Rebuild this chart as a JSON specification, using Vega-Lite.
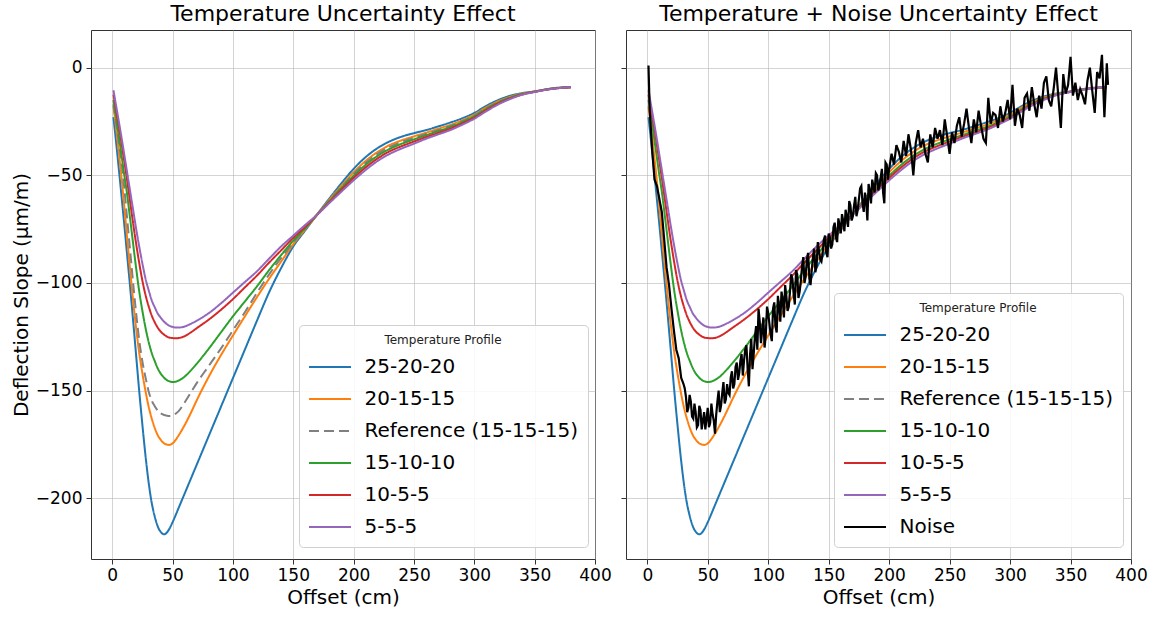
{
  "$schema": "https://vega.github.io/schema/vega-lite/v6.json",
  "padding": {"left": 10, "top": 2, "right": 5, "bottom": 5},
  "bounds": "flush",
  "spacing": 31,
  "config": {
    "font": "DejaVu Sans",
    "view": {"stroke": "#333333", "strokeWidth": 1},
    "axis": {
      "labelFont": "DejaVu Sans", "labelFontSize": 17, "labelColor": "#000000",
      "titleFont": "DejaVu Sans", "titleFontSize": 20, "titleFontWeight": "normal", "titleColor": "#000000",
      "gridColor": "#b0b0b0", "gridOpacity": 0.55, "gridWidth": 1,
      "tickColor": "#333333", "tickSize": 5, "domain": false, "labelFlush": false, "labelOverlap": false
    },
    "axisX": {"labelPadding": 3, "titlePadding": 4},
    "axisY": {"labelPadding": 4, "titlePadding": 4},
    "title": {"font": "DejaVu Sans", "fontSize": 22, "fontWeight": "normal", "color": "#000000", "anchor": "middle", "offset": 4},
    "line": {"strokeWidth": 2}
  },
  "datasets": {
    "curves": [
      {"x": 1, "25-20-20": -23, "20-15-15": -18, "Reference (15-15-15)": -17, "15-10-10": -15, "10-5-5": -12.5, "5-5-5": -10.5},
      {"x": 3, "25-20-20": -33.5, "20-15-15": -27, "Reference (15-15-15)": -25, "15-10-10": -22, "10-5-5": -19, "5-5-5": -17},
      {"x": 5, "25-20-20": -44.5, "20-15-15": -37, "Reference (15-15-15)": -33, "15-10-10": -30, "10-5-5": -25.5, "5-5-5": -23.5},
      {"x": 8, "25-20-20": -61.5, "20-15-15": -53, "Reference (15-15-15)": -45.5, "15-10-10": -42, "10-5-5": -36, "5-5-5": -33.5},
      {"x": 10, "25-20-20": -73, "20-15-15": -64.5, "Reference (15-15-15)": -56, "15-10-10": -50, "10-5-5": -43.5, "5-5-5": -40.5},
      {"x": 12, "25-20-20": -85, "20-15-15": -77, "Reference (15-15-15)": -68, "15-10-10": -57.5, "10-5-5": -51, "5-5-5": -47.5},
      {"x": 15, "25-20-20": -103, "20-15-15": -95, "Reference (15-15-15)": -86, "15-10-10": -71, "10-5-5": -63, "5-5-5": -58},
      {"x": 18, "25-20-20": -122, "20-15-15": -112, "Reference (15-15-15)": -104, "15-10-10": -85, "10-5-5": -75, "5-5-5": -68.5},
      {"x": 20, "25-20-20": -135, "20-15-15": -122, "Reference (15-15-15)": -115, "15-10-10": -94, "10-5-5": -82.5, "5-5-5": -75.5},
      {"x": 22, "25-20-20": -148, "20-15-15": -131, "Reference (15-15-15)": -125, "15-10-10": -102.5, "10-5-5": -89.5, "5-5-5": -82},
      {"x": 25, "25-20-20": -166, "20-15-15": -142, "Reference (15-15-15)": -136.5, "15-10-10": -113, "10-5-5": -99, "5-5-5": -91},
      {"x": 28, "25-20-20": -182.5, "20-15-15": -151.5, "Reference (15-15-15)": -145, "15-10-10": -122, "10-5-5": -106.5, "5-5-5": -99},
      {"x": 30, "25-20-20": -192, "20-15-15": -157, "Reference (15-15-15)": -150, "15-10-10": -127, "10-5-5": -110.5, "5-5-5": -103},
      {"x": 33, "25-20-20": -203, "20-15-15": -163.5, "Reference (15-15-15)": -155, "15-10-10": -133, "10-5-5": -115.5, "5-5-5": -108.5},
      {"x": 35, "25-20-20": -208, "20-15-15": -167, "Reference (15-15-15)": -157, "15-10-10": -136, "10-5-5": -118, "5-5-5": -111},
      {"x": 38, "25-20-20": -213.5, "20-15-15": -171, "Reference (15-15-15)": -159.5, "15-10-10": -140, "10-5-5": -121, "5-5-5": -114.5},
      {"x": 40, "25-20-20": -215.5, "20-15-15": -172.7, "Reference (15-15-15)": -160.5, "15-10-10": -142, "10-5-5": -122.5, "5-5-5": -116},
      {"x": 43, "25-20-20": -216.7, "20-15-15": -174.5, "Reference (15-15-15)": -161.3, "15-10-10": -144, "10-5-5": -124, "5-5-5": -118},
      {"x": 45, "25-20-20": -216.1, "20-15-15": -175, "Reference (15-15-15)": -161.6, "15-10-10": -145, "10-5-5": -124.8, "5-5-5": -119},
      {"x": 47, "25-20-20": -214.5, "20-15-15": -175.2, "Reference (15-15-15)": -161.8, "15-10-10": -145.6, "10-5-5": -125.3, "5-5-5": -119.8},
      {"x": 50, "25-20-20": -211.1, "20-15-15": -174.5, "Reference (15-15-15)": -161.6, "15-10-10": -146, "10-5-5": -125.6, "5-5-5": -120.4},
      {"x": 53, "25-20-20": -207.2, "20-15-15": -172.5, "Reference (15-15-15)": -160.5, "15-10-10": -145.8, "10-5-5": -125.7, "5-5-5": -120.7},
      {"x": 55, "25-20-20": -204.5, "20-15-15": -170.8, "Reference (15-15-15)": -159.5, "15-10-10": -145.3, "10-5-5": -125.6, "5-5-5": -120.7},
      {"x": 60, "25-20-20": -197.8, "20-15-15": -166, "Reference (15-15-15)": -155.5, "15-10-10": -143.5, "10-5-5": -124.7, "5-5-5": -120.2},
      {"x": 65, "25-20-20": -191.1, "20-15-15": -160.5, "Reference (15-15-15)": -151, "15-10-10": -140.7, "10-5-5": -123, "5-5-5": -119},
      {"x": 70, "25-20-20": -184.4, "20-15-15": -154.5, "Reference (15-15-15)": -146.5, "15-10-10": -137.5, "10-5-5": -121, "5-5-5": -117.5},
      {"x": 80, "25-20-20": -171, "20-15-15": -143.5, "Reference (15-15-15)": -138.5, "15-10-10": -130.5, "10-5-5": -117, "5-5-5": -114},
      {"x": 90, "25-20-20": -157.6, "20-15-15": -133.6, "Reference (15-15-15)": -130.5, "15-10-10": -123, "10-5-5": -112.5, "5-5-5": -109.5},
      {"x": 100, "25-20-20": -144.2, "20-15-15": -124.4, "Reference (15-15-15)": -122, "15-10-10": -115.5, "10-5-5": -107.5, "5-5-5": -104.5},
      {"x": 110, "25-20-20": -130.8, "20-15-15": -115.4, "Reference (15-15-15)": -113.5, "15-10-10": -108.5, "10-5-5": -102, "5-5-5": -99.5},
      {"x": 120, "25-20-20": -117.4, "20-15-15": -106.5, "Reference (15-15-15)": -104.5, "15-10-10": -101.5, "10-5-5": -96.5, "5-5-5": -94.5},
      {"x": 130, "25-20-20": -104.3, "20-15-15": -98, "Reference (15-15-15)": -96, "15-10-10": -94, "10-5-5": -90.5, "5-5-5": -88.7},
      {"x": 140, "25-20-20": -93, "20-15-15": -90, "Reference (15-15-15)": -88.3, "15-10-10": -87, "10-5-5": -84.8, "5-5-5": -83},
      {"x": 150, "25-20-20": -83, "20-15-15": -82, "Reference (15-15-15)": -81.3, "15-10-10": -80.3, "10-5-5": -79, "5-5-5": -78},
      {"x": 160, "25-20-20": -75.5, "20-15-15": -75, "Reference (15-15-15)": -74.8, "15-10-10": -74.4, "10-5-5": -73.8, "5-5-5": -73},
      {"x": 170, "25-20-20": -68, "20-15-15": -68.1, "Reference (15-15-15)": -68.1, "15-10-10": -68.1, "10-5-5": -68.2, "5-5-5": -68.2},
      {"x": 180, "25-20-20": -60.7, "20-15-15": -61.3, "Reference (15-15-15)": -61.6, "15-10-10": -62, "10-5-5": -62.4, "5-5-5": -62.8},
      {"x": 190, "25-20-20": -53.6, "20-15-15": -54.8, "Reference (15-15-15)": -55.4, "15-10-10": -55.9, "10-5-5": -56.7, "5-5-5": -57.5},
      {"x": 200, "25-20-20": -47, "20-15-15": -48.6, "Reference (15-15-15)": -49.4, "15-10-10": -50.2, "10-5-5": -51.2, "5-5-5": -52.3},
      {"x": 210, "25-20-20": -41.5, "20-15-15": -43.3, "Reference (15-15-15)": -44.2, "15-10-10": -45.1, "10-5-5": -46.3, "5-5-5": -47.5},
      {"x": 220, "25-20-20": -37.3, "20-15-15": -39.1, "Reference (15-15-15)": -40, "15-10-10": -40.9, "10-5-5": -42.1, "5-5-5": -43.3},
      {"x": 230, "25-20-20": -34.2, "20-15-15": -35.9, "Reference (15-15-15)": -36.8, "15-10-10": -37.7, "10-5-5": -38.8, "5-5-5": -40},
      {"x": 240, "25-20-20": -32, "20-15-15": -33.7, "Reference (15-15-15)": -34.5, "15-10-10": -35.3, "10-5-5": -36.4, "5-5-5": -37.5},
      {"x": 250, "25-20-20": -30.4, "20-15-15": -31.9, "Reference (15-15-15)": -32.6, "15-10-10": -33.3, "10-5-5": -34.3, "5-5-5": -35.3},
      {"x": 260, "25-20-20": -29, "20-15-15": -30.2, "Reference (15-15-15)": -30.8, "15-10-10": -31.4, "10-5-5": -32.2, "5-5-5": -33},
      {"x": 270, "25-20-20": -27.3, "20-15-15": -28.4, "Reference (15-15-15)": -29, "15-10-10": -29.5, "10-5-5": -30.3, "5-5-5": -31},
      {"x": 280, "25-20-20": -25.5, "20-15-15": -26.6, "Reference (15-15-15)": -27.1, "15-10-10": -27.6, "10-5-5": -28.3, "5-5-5": -29},
      {"x": 290, "25-20-20": -23.5, "20-15-15": -24.4, "Reference (15-15-15)": -24.9, "15-10-10": -25.3, "10-5-5": -25.9, "5-5-5": -26.5},
      {"x": 300, "25-20-20": -21, "20-15-15": -21.8, "Reference (15-15-15)": -22.2, "15-10-10": -22.6, "10-5-5": -23.2, "5-5-5": -23.7},
      {"x": 310, "25-20-20": -17.7, "20-15-15": -18.4, "Reference (15-15-15)": -18.8, "15-10-10": -19.2, "10-5-5": -19.7, "5-5-5": -20.2},
      {"x": 320, "25-20-20": -15, "20-15-15": -15.6, "Reference (15-15-15)": -15.9, "15-10-10": -16.2, "10-5-5": -16.6, "5-5-5": -17},
      {"x": 330, "25-20-20": -13, "20-15-15": -13.5, "Reference (15-15-15)": -13.7, "15-10-10": -13.9, "10-5-5": -14.2, "5-5-5": -14.5},
      {"x": 340, "25-20-20": -11.8, "20-15-15": -12, "Reference (15-15-15)": -12.1, "15-10-10": -12.2, "10-5-5": -12.4, "5-5-5": -12.5},
      {"x": 350, "25-20-20": -11, "20-15-15": -11.1, "Reference (15-15-15)": -11.1, "15-10-10": -11.2, "10-5-5": -11.2, "5-5-5": -11.3},
      {"x": 360, "25-20-20": -10, "20-15-15": -10.1, "Reference (15-15-15)": -10.1, "15-10-10": -10.1, "10-5-5": -10.2, "5-5-5": -10.2},
      {"x": 370, "25-20-20": -9.3, "20-15-15": -9.4, "Reference (15-15-15)": -9.4, "15-10-10": -9.4, "10-5-5": -9.5, "5-5-5": -9.5},
      {"x": 380, "25-20-20": -9.2, "20-15-15": -9.1, "Reference (15-15-15)": -9.1, "15-10-10": -9.1, "10-5-5": -9.0, "5-5-5": -9.0}
    ],
    "noise": [
      {"x": 1, "y": 1}, {"x": 2, "y": -20}, {"x": 4, "y": -38}, {"x": 6, "y": -52}, {"x": 8, "y": -55}, {"x": 10, "y": -61},
      {"x": 12, "y": -67}, {"x": 14, "y": -80}, {"x": 16, "y": -93}, {"x": 18, "y": -101}, {"x": 20, "y": -112}, {"x": 22, "y": -122},
      {"x": 24, "y": -131}, {"x": 26, "y": -135}, {"x": 28, "y": -144}, {"x": 30, "y": -147}, {"x": 31, "y": -149}, {"x": 32, "y": -153},
      {"x": 33, "y": -160}, {"x": 34, "y": -158}, {"x": 35, "y": -152}, {"x": 36, "y": -155}, {"x": 37, "y": -162}, {"x": 38, "y": -163},
      {"x": 39, "y": -156}, {"x": 40, "y": -160}, {"x": 41, "y": -167}, {"x": 42, "y": -166}, {"x": 43, "y": -157}, {"x": 44, "y": -159},
      {"x": 45, "y": -168}, {"x": 46, "y": -164}, {"x": 47, "y": -160}, {"x": 48, "y": -168}, {"x": 49, "y": -163}, {"x": 50, "y": -158},
      {"x": 51, "y": -167}, {"x": 52, "y": -165}, {"x": 53, "y": -156}, {"x": 54, "y": -161}, {"x": 55, "y": -164}, {"x": 56, "y": -170},
      {"x": 57, "y": -161}, {"x": 58, "y": -155}, {"x": 59, "y": -150}, {"x": 60, "y": -160}, {"x": 61, "y": -157}, {"x": 62, "y": -151},
      {"x": 63, "y": -146}, {"x": 64, "y": -156}, {"x": 65, "y": -154}, {"x": 66, "y": -147}, {"x": 67, "y": -151}, {"x": 68, "y": -152},
      {"x": 69, "y": -144}, {"x": 70, "y": -141}, {"x": 71, "y": -149}, {"x": 72, "y": -147}, {"x": 73, "y": -139}, {"x": 74, "y": -137},
      {"x": 75, "y": -145}, {"x": 76, "y": -142}, {"x": 77, "y": -136}, {"x": 78, "y": -133}, {"x": 79, "y": -143}, {"x": 80, "y": -136},
      {"x": 81, "y": -131}, {"x": 82, "y": -129}, {"x": 83, "y": -140}, {"x": 84, "y": -148}, {"x": 85, "y": -133}, {"x": 86, "y": -126},
      {"x": 87, "y": -140}, {"x": 88, "y": -133}, {"x": 89, "y": -125}, {"x": 90, "y": -120}, {"x": 91, "y": -131}, {"x": 92, "y": -112},
      {"x": 93, "y": -118}, {"x": 94, "y": -128}, {"x": 95, "y": -122}, {"x": 96, "y": -116}, {"x": 97, "y": -130}, {"x": 98, "y": -124},
      {"x": 99, "y": -111}, {"x": 100, "y": -114}, {"x": 101, "y": -119}, {"x": 102, "y": -124}, {"x": 103, "y": -127}, {"x": 104, "y": -112},
      {"x": 105, "y": -109}, {"x": 106, "y": -120}, {"x": 107, "y": -123}, {"x": 108, "y": -106}, {"x": 109, "y": -111}, {"x": 110, "y": -118},
      {"x": 111, "y": -104}, {"x": 112, "y": -108}, {"x": 113, "y": -116}, {"x": 114, "y": -101}, {"x": 115, "y": -106}, {"x": 116, "y": -113},
      {"x": 117, "y": -111}, {"x": 118, "y": -104}, {"x": 119, "y": -96}, {"x": 120, "y": -98}, {"x": 121, "y": -105}, {"x": 122, "y": -110},
      {"x": 123, "y": -94}, {"x": 124, "y": -96}, {"x": 125, "y": -107}, {"x": 126, "y": -104}, {"x": 127, "y": -99}, {"x": 128, "y": -92},
      {"x": 129, "y": -88}, {"x": 130, "y": -100}, {"x": 131, "y": -97}, {"x": 132, "y": -89}, {"x": 133, "y": -86}, {"x": 134, "y": -98},
      {"x": 135, "y": -101}, {"x": 136, "y": -94}, {"x": 137, "y": -88}, {"x": 138, "y": -84}, {"x": 139, "y": -95}, {"x": 140, "y": -92},
      {"x": 141, "y": -81}, {"x": 142, "y": -85}, {"x": 143, "y": -89}, {"x": 144, "y": -90}, {"x": 145, "y": -86}, {"x": 146, "y": -80},
      {"x": 147, "y": -78}, {"x": 148, "y": -86}, {"x": 149, "y": -88}, {"x": 150, "y": -77}, {"x": 151, "y": -79}, {"x": 152, "y": -84},
      {"x": 153, "y": -82}, {"x": 154, "y": -74}, {"x": 155, "y": -72}, {"x": 156, "y": -79}, {"x": 157, "y": -81}, {"x": 158, "y": -70},
      {"x": 159, "y": -73}, {"x": 160, "y": -77}, {"x": 161, "y": -68}, {"x": 162, "y": -71}, {"x": 163, "y": -76}, {"x": 164, "y": -66},
      {"x": 165, "y": -69}, {"x": 166, "y": -74}, {"x": 167, "y": -62}, {"x": 168, "y": -64}, {"x": 169, "y": -71}, {"x": 170, "y": -69},
      {"x": 171, "y": -64}, {"x": 172, "y": -60}, {"x": 173, "y": -69}, {"x": 174, "y": -66}, {"x": 175, "y": -61}, {"x": 176, "y": -56},
      {"x": 177, "y": -55}, {"x": 178, "y": -63}, {"x": 179, "y": -67}, {"x": 180, "y": -58}, {"x": 181, "y": -62}, {"x": 182, "y": -71},
      {"x": 183, "y": -54}, {"x": 184, "y": -57}, {"x": 185, "y": -63}, {"x": 186, "y": -52}, {"x": 187, "y": -55}, {"x": 188, "y": -58},
      {"x": 189, "y": -49}, {"x": 190, "y": -50}, {"x": 191, "y": -57}, {"x": 192, "y": -55}, {"x": 193, "y": -51}, {"x": 194, "y": -47},
      {"x": 195, "y": -58}, {"x": 196, "y": -63}, {"x": 197, "y": -44}, {"x": 198, "y": -45}, {"x": 199, "y": -52}, {"x": 200, "y": -47},
      {"x": 202, "y": -40},
      {"x": 204, "y": -45}, {"x": 206, "y": -36}, {"x": 208, "y": -39}, {"x": 210, "y": -44}, {"x": 212, "y": -34}, {"x": 214, "y": -41},
      {"x": 216, "y": -31}, {"x": 218, "y": -38}, {"x": 220, "y": -50}, {"x": 222, "y": -35}, {"x": 224, "y": -29}, {"x": 226, "y": -37},
      {"x": 228, "y": -33}, {"x": 230, "y": -40}, {"x": 232, "y": -44}, {"x": 234, "y": -31}, {"x": 236, "y": -37}, {"x": 238, "y": -28},
      {"x": 240, "y": -33}, {"x": 242, "y": -29}, {"x": 244, "y": -36}, {"x": 246, "y": -24}, {"x": 248, "y": -32}, {"x": 250, "y": -40},
      {"x": 252, "y": -30}, {"x": 254, "y": -35}, {"x": 256, "y": -27}, {"x": 258, "y": -23}, {"x": 260, "y": -32}, {"x": 262, "y": -26},
      {"x": 264, "y": -19}, {"x": 266, "y": -28}, {"x": 268, "y": -35}, {"x": 270, "y": -24}, {"x": 272, "y": -30}, {"x": 274, "y": -20},
      {"x": 276, "y": -27}, {"x": 278, "y": -33}, {"x": 280, "y": -35}, {"x": 282, "y": -14}, {"x": 284, "y": -26}, {"x": 286, "y": -21},
      {"x": 288, "y": -22}, {"x": 290, "y": -28}, {"x": 292, "y": -18}, {"x": 294, "y": -25}, {"x": 296, "y": -21}, {"x": 298, "y": -15},
      {"x": 300, "y": -24}, {"x": 302, "y": -8}, {"x": 304, "y": -27}, {"x": 306, "y": -19}, {"x": 308, "y": -22}, {"x": 310, "y": -28},
      {"x": 312, "y": -14}, {"x": 314, "y": -12}, {"x": 316, "y": -20}, {"x": 318, "y": -9}, {"x": 320, "y": -17}, {"x": 322, "y": -23},
      {"x": 324, "y": -13}, {"x": 326, "y": -19}, {"x": 328, "y": -7}, {"x": 330, "y": -4}, {"x": 332, "y": -15}, {"x": 334, "y": -18},
      {"x": 336, "y": -10}, {"x": 338, "y": 0}, {"x": 340, "y": -14}, {"x": 342, "y": -28}, {"x": 344, "y": -3}, {"x": 346, "y": -12},
      {"x": 348, "y": -8}, {"x": 350, "y": 5}, {"x": 352, "y": -13}, {"x": 354, "y": -7}, {"x": 356, "y": -15}, {"x": 358, "y": -10},
      {"x": 360, "y": -13}, {"x": 362, "y": -17}, {"x": 364, "y": -6}, {"x": 366, "y": 0}, {"x": 368, "y": -11}, {"x": 370, "y": -21},
      {"x": 372, "y": -2}, {"x": 374, "y": -5}, {"x": 376, "y": 6}, {"x": 378, "y": -23}, {"x": 380, "y": 2}, {"x": 381, "y": -8}
    ]
  },
  "hconcat": [
    {
      "width": 504,
      "height": 529,
      "title": "Temperature Uncertainty Effect",
      "data": {"name": "curves"},
      "transform": [
        {"fold": ["25-20-20", "20-15-15", "Reference (15-15-15)", "15-10-10", "10-5-5", "5-5-5"], "as": ["series", "y"]}
      ],
      "mark": {"type": "line", "interpolate": "monotone"},
      "encoding": {
        "x": {"field": "x", "type": "quantitative",
          "scale": {"domain": [-17.6, 400], "nice": false, "zero": false},
          "axis": {"values": [0, 50, 100, 150, 200, 250, 300, 350, 400], "title": "Offset (cm)"}},
        "y": {"field": "y", "type": "quantitative",
          "scale": {"domain": [-228.2, 17.5], "nice": false, "zero": false},
          "axis": {"values": [-200, -150, -100, -50, 0], "title": "Deflection Slope (μm/m)"}},
        "color": {"field": "series", "type": "nominal",
          "scale": {"domain": ["25-20-20", "20-15-15", "Reference (15-15-15)", "15-10-10", "10-5-5", "5-5-5"],
                    "range": ["#1f77b4", "#ff7f0e", "#808080", "#2ca02c", "#d62728", "#9467bd"]},
          "legend": {"title": "Temperature Profile", "orient": "none", "legendX": 208, "legendY": 295,
            "symbolType": "M-1.1,0H3.1", "symbolSize": 400, "symbolStrokeWidth": 2.5,
            "labelFontSize": 20, "labelColor": "#000000", "labelOffset": 33.5, "labelLimit": 400, "rowPadding": 11,
            "padding": 10, "titlePadding": 9, "titleFontSize": 12, "titleFontWeight": "normal", "titleColor": "#222222",
            "titleAnchor": "middle", "fillColor": "rgba(255,255,255,0.85)", "strokeColor": "#d0d0d0", "cornerRadius": 4}},
        "strokeDash": {"field": "series", "type": "nominal",
          "scale": {"domain": ["25-20-20", "20-15-15", "Reference (15-15-15)", "15-10-10", "10-5-5", "5-5-5"],
                    "range": [[1, 0], [1, 0], [10, 5], [1, 0], [1, 0], [1, 0]]},
          "legend": {"title": "Temperature Profile", "orient": "none", "legendX": 208, "legendY": 295,
            "symbolType": "M-1.1,0H3.1", "symbolSize": 400, "symbolStrokeWidth": 2.5,
            "labelFontSize": 20, "labelColor": "#000000", "labelOffset": 33.5, "labelLimit": 400, "rowPadding": 11,
            "padding": 10, "titlePadding": 9, "titleFontSize": 12, "titleFontWeight": "normal", "titleColor": "#222222",
            "titleAnchor": "middle", "fillColor": "rgba(255,255,255,0.85)", "strokeColor": "#d0d0d0", "cornerRadius": 4}},
        "strokeWidth": {"field": "series", "type": "ordinal",
          "scale": {"domain": ["25-20-20", "20-15-15", "Reference (15-15-15)", "15-10-10", "10-5-5", "5-5-5"],
                    "range": [2, 2, 2.8, 2, 2, 2]},
          "legend": null}
      }
    },
    {
      "width": 505,
      "height": 529,
      "title": "Temperature + Noise Uncertainty Effect",
      "layer": [
        {
          "data": {"name": "curves"},
          "transform": [
            {"fold": ["25-20-20", "20-15-15", "15-10-10", "10-5-5", "5-5-5"], "as": ["series", "y"]}
          ],
          "mark": {"type": "line", "interpolate": "monotone"},
          "encoding": {
            "x": {"field": "x", "type": "quantitative",
              "scale": {"domain": [-17.6, 400], "nice": false, "zero": false},
              "axis": {"values": [0, 50, 100, 150, 200, 250, 300, 350, 400], "title": "Offset (cm)"}},
            "y": {"field": "y", "type": "quantitative",
              "scale": {"domain": [-228.2, 17.5], "nice": false, "zero": false},
              "axis": {"values": [-200, -150, -100, -50, 0], "labels": false, "title": null}},
            "color": {"field": "series", "type": "nominal",
              "scale": {"domain": ["25-20-20", "20-15-15", "Reference (15-15-15)", "15-10-10", "10-5-5", "5-5-5", "Noise"],
                        "range": ["#1f77b4", "#ff7f0e", "#808080", "#2ca02c", "#d62728", "#9467bd", "#000000"]},
              "legend": {"title": "Temperature Profile", "orient": "none", "legendX": 208, "legendY": 263,
                "symbolType": "M-1.1,0H3.1", "symbolSize": 400, "symbolStrokeWidth": 2.5,
                "labelFontSize": 20, "labelColor": "#000000", "labelOffset": 33.5, "labelLimit": 400, "rowPadding": 11,
                "padding": 10, "titlePadding": 9, "titleFontSize": 12, "titleFontWeight": "normal", "titleColor": "#222222",
                "titleAnchor": "middle", "fillColor": "rgba(255,255,255,0.85)", "strokeColor": "#d0d0d0", "cornerRadius": 4}},
            "strokeDash": {"field": "series", "type": "nominal",
              "scale": {"domain": ["25-20-20", "20-15-15", "Reference (15-15-15)", "15-10-10", "10-5-5", "5-5-5", "Noise"],
                        "range": [[1, 0], [1, 0], [10, 5], [1, 0], [1, 0], [1, 0], [1, 0]]},
              "legend": {"title": "Temperature Profile", "orient": "none", "legendX": 208, "legendY": 263,
                "symbolType": "M-1.1,0H3.1", "symbolSize": 400, "symbolStrokeWidth": 2.5,
                "labelFontSize": 20, "labelColor": "#000000", "labelOffset": 33.5, "labelLimit": 400, "rowPadding": 11,
                "padding": 10, "titlePadding": 9, "titleFontSize": 12, "titleFontWeight": "normal", "titleColor": "#222222",
                "titleAnchor": "middle", "fillColor": "rgba(255,255,255,0.85)", "strokeColor": "#d0d0d0", "cornerRadius": 4}}
          }
        },
        {
          "data": {"name": "noise"},
          "mark": {"type": "line", "strokeWidth": 2.2},
          "encoding": {
            "x": {"field": "x", "type": "quantitative"},
            "y": {"field": "y", "type": "quantitative"},
            "color": {"datum": "Noise", "type": "nominal"},
            "strokeDash": {"datum": "Noise", "type": "nominal"}
          }
        }
      ]
    }
  ],
  "resolve": {"scale": {"color": "independent", "strokeDash": "independent", "strokeWidth": "independent"}}
}
